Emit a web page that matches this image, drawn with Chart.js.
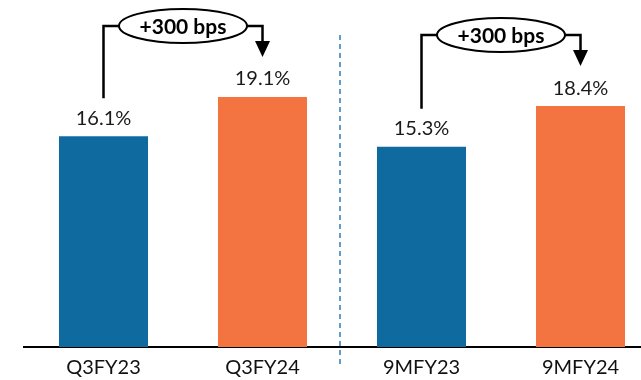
<!DOCTYPE html>
<html>
<head>
<meta charset="utf-8">
<script src="https://cdn.jsdelivr.net/npm/chart.js@4/dist/chart.umd.min.js"></script>
<style>
  html, body { margin: 0; padding: 0; background: #ffffff; overflow: hidden; }
  #wrap { width: 641px; height: 380px; overflow: hidden; position: relative; }
  canvas { display: block; }
</style>
</head>
<body>
<div id="wrap"><canvas id="c" width="660" height="380"></canvas></div>
<script>
// EBITDA-style margin comparison: quarter and nine-month periods
const categories = ['Q3FY23', 'Q3FY24', '9MFY23', '9MFY24'];
const marginPct = [16.1, 19.1, 15.3, 18.4];
const valueLabels = ['16.1%', '19.1%', '15.3%', '18.4%'];
// each change callout links a prior-year bar to its current-year bar
const changePairs = [[0, 1], [2, 3]];
const changeLabels = ['+300 bps', '+300 bps'];

const BLUE = '#0F6B9F';
const ORANGE = '#F37441';
const FONT = 'Lato, "Open Sans", sans-serif';

// value labels above each bar
const valueLabelPlugin = {
  id: 'valueLabels',
  afterDatasetsDraw(chart) {
    const ctx = chart.ctx;
    const meta = chart.getDatasetMeta(0);
    ctx.save();
    ctx.font = '20px ' + FONT;
    ctx.fillStyle = '#1a1a1a';
    ctx.textAlign = 'center';
    ctx.textBaseline = 'middle';
    meta.data.forEach((bar, i) => {
      ctx.fillText(valueLabels[i], bar.x, bar.y - 18);
    });
    ctx.restore();
  }
};

// dashed separator between the quarterly and nine-month groups
const separatorPlugin = {
  id: 'separator',
  afterDraw(chart) {
    const ctx = chart.ctx;
    const x = chart.scales.x;
    const px = (x.getPixelForValue(1) + x.getPixelForValue(2)) / 2 - 2;
    ctx.save();
    ctx.strokeStyle = '#2E7DB5';
    ctx.lineWidth = 1.5;
    ctx.setLineDash([5, 4]);
    ctx.beginPath();
    ctx.moveTo(px, 35);
    ctx.lineTo(px, 367);
    ctx.stroke();
    ctx.restore();
  }
};

// bracket + ellipse + arrow callout showing the change between two bars
const changeCalloutPlugin = {
  id: 'changeCallout',
  afterDraw(chart) {
    const ctx = chart.ctx;
    const meta = chart.getDatasetMeta(0);
    ctx.save();
    ctx.strokeStyle = '#000';
    ctx.fillStyle = '#000';
    ctx.lineWidth = 2.5;
    ctx.setLineDash([]);
    changePairs.forEach((pair, k) => {
      const a = meta.data[pair[0]];
      const b = meta.data[pair[1]];
      const labelA = a.y - 18;
      const labelB = b.y - 18;
      const topY = Math.min(labelA, labelB) - 53;
      const midX = (a.x + b.x) / 2;
      const rx = 64, ry = 17;
      const tipY = labelB - 22;
      // left leg
      ctx.beginPath();
      ctx.moveTo(a.x, labelA - 20);
      ctx.lineTo(a.x, topY);
      ctx.lineTo(midX - rx, topY);
      ctx.stroke();
      // right leg down to the arrow
      ctx.beginPath();
      ctx.moveTo(midX + rx, topY);
      ctx.lineTo(b.x, topY);
      ctx.lineTo(b.x, tipY - 14);
      ctx.stroke();
      ctx.beginPath();
      ctx.moveTo(b.x - 7.5, tipY - 16);
      ctx.lineTo(b.x + 7.5, tipY - 16);
      ctx.lineTo(b.x, tipY);
      ctx.closePath();
      ctx.fill();
      // ellipse with the change text
      ctx.beginPath();
      ctx.ellipse(midX, topY, rx, ry, 0, 0, Math.PI * 2);
      ctx.fillStyle = '#fff';
      ctx.fill();
      ctx.lineWidth = 2;
      ctx.stroke();
      ctx.lineWidth = 2.5;
      ctx.fillStyle = '#000';
      ctx.font = 'bold 21px ' + FONT;
      ctx.textAlign = 'center';
      ctx.textBaseline = 'middle';
      ctx.fillText(changeLabels[k], midX, topY + 1);
    });
    ctx.restore();
  }
};

new Chart(document.getElementById('c'), {
  type: 'bar',
  data: {
    labels: categories,
    datasets: [{
      data: marginPct,
      backgroundColor: [BLUE, ORANGE, BLUE, ORANGE],
      borderWidth: 0,
      categoryPercentage: 1,
      barPercentage: 0.56
    }]
  },
  options: {
    responsive: false,
    devicePixelRatio: 1,
    animation: false,
    layout: { padding: { left: 24, right: 0, top: 0, bottom: 0 } },
    plugins: { legend: { display: false }, tooltip: { enabled: false } },
    scales: {
      x: {
        grid: { display: false, drawTicks: false },
        border: { display: true, color: '#000', width: 2 },
        ticks: { color: '#111', font: { family: FONT, size: 20 }, padding: 9, maxRotation: 0 },
        afterFit(scale) { scale.height = 33; }
      },
      y: {
        display: false,
        min: 0,
        max: 26.5
      }
    }
  },
  plugins: [valueLabelPlugin, separatorPlugin, changeCalloutPlugin]
});
</script>
</body>
</html>
